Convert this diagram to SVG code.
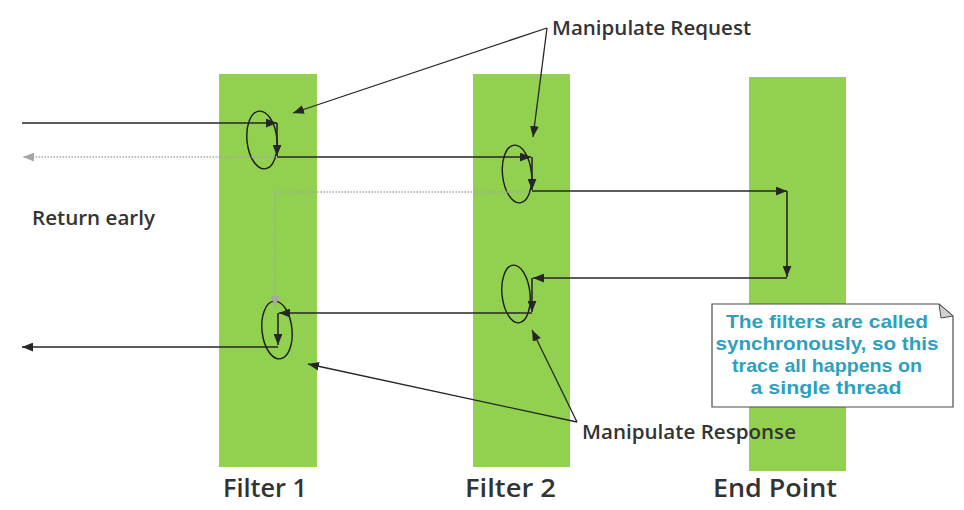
<svg xmlns="http://www.w3.org/2000/svg" width="964" height="510" viewBox="0 0 964 510">
<style>
.bar{fill:#92D050}
.ln{fill:none;stroke:#262626;stroke-width:1.6}
.dot{fill:none;stroke:#a6a6a6;stroke-width:1.3;stroke-dasharray:1.5 1.5}
.ell{fill:none;stroke:#1a1a1a;stroke-width:1.4}
.cl{fill:none;stroke:#262626;stroke-width:1.3}
.lbl{font-family:"Open Sans","Liberation Sans",sans-serif;font-weight:600;fill:#333333}
.note{font-family:"Liberation Sans","Open Sans",sans-serif;font-weight:700;fill:#2E9FBF;font-size:19px;text-anchor:middle}
</style>
<defs>
<marker id="ah" viewBox="0 0 10 8" refX="10" refY="4" markerWidth="11" markerHeight="9" markerUnits="userSpaceOnUse" orient="auto"><path d="M0,0 L10,4 L0,8 Z" fill="#262626"/></marker>
<marker id="ag" viewBox="0 0 10 8" refX="10" refY="4" markerWidth="11" markerHeight="9" markerUnits="userSpaceOnUse" orient="auto"><path d="M0,0 L10,4 L0,8 Z" fill="#a6a6a6"/></marker>
</defs>
<rect width="964" height="510" fill="#ffffff"/>
<g id="filter1">
<rect class="bar" x="219" y="74" width="98" height="393"/>
<text class="lbl" x="223" y="497" font-size="25" textLength="84" lengthAdjust="spacingAndGlyphs">Filter 1</text>
</g>
<g id="filter2">
<rect class="bar" x="473" y="74" width="97" height="393"/>
<text class="lbl" x="465" y="497" font-size="25" textLength="91" lengthAdjust="spacingAndGlyphs">Filter 2</text>
</g>
<g id="endpoint">
<rect class="bar" x="749" y="77" width="97" height="394"/>
<text class="lbl" x="713" y="497" font-size="25" textLength="124" lengthAdjust="spacingAndGlyphs">End Point</text>
</g>
<g id="ellipses">
<ellipse class="ell" cx="262" cy="140" rx="15" ry="29" transform="rotate(-6 262 140)"/>
<ellipse class="ell" cx="517" cy="174" rx="14.5" ry="29" transform="rotate(-6 517 174)"/>
<ellipse class="ell" cx="516" cy="294" rx="14" ry="29" transform="rotate(-6 516 294)"/>
<ellipse class="ell" cx="277" cy="330" rx="15" ry="29" transform="rotate(-6 277 330)"/>
</g>
<g id="connectors">
<path class="dot" d="M277,157 H23" marker-end="url(#ag)"/>
<path class="dot" d="M532,192 H275 V307" marker-end="url(#ag)"/>
<path class="ln" d="M22,123 H277" marker-end="url(#ah)"/>
<path class="ln" d="M277,123 V156" marker-end="url(#ah)"/>
<path class="ln" d="M277,157 H531" marker-end="url(#ah)"/>
<path class="ln" d="M532,157 V190" marker-end="url(#ah)"/>
<path class="ln" d="M532,191 H787" marker-end="url(#ah)"/>
<path class="ln" d="M787,191 V277" marker-end="url(#ah)"/>
<path class="ln" d="M787,278 H533" marker-end="url(#ah)"/>
<path class="ln" d="M532,278 V312" marker-end="url(#ah)"/>
<path class="ln" d="M532,313 H279" marker-end="url(#ah)"/>
<path class="ln" d="M278,313 V345" marker-end="url(#ah)"/>
<path class="ln" d="M278,347 H22" marker-end="url(#ah)"/>
<path class="cl" d="M547,28 L293,113" marker-end="url(#ah)"/>
<path class="cl" d="M547,28 L533,137" marker-end="url(#ah)"/>
<path class="cl" d="M577,422 L532,330" marker-end="url(#ah)"/>
<path class="cl" d="M577,422 L308,364" marker-end="url(#ah)"/>
</g>
<g id="labels">
<text class="lbl" x="552" y="35" font-size="19" textLength="199" lengthAdjust="spacingAndGlyphs">Manipulate Request</text>
<text class="lbl" x="582" y="439" font-size="19" textLength="214" lengthAdjust="spacingAndGlyphs">Manipulate Response</text>
<text class="lbl" x="32" y="225" font-size="19" textLength="123" lengthAdjust="spacingAndGlyphs">Return early</text>
</g>
<g id="note">
<path d="M712,304 H939 L953,316 V407 H712 Z" fill="#ffffff" stroke="#4d4d4d" stroke-width="1.2"/>
<path d="M939,304 L941,318 L953,316 Z" fill="#d0d0d0" stroke="#4d4d4d" stroke-width="1"/>
<text class="note" x="827" y="328" textLength="202" lengthAdjust="spacingAndGlyphs">The filters are called</text>
<text class="note" x="827" y="350" textLength="223" lengthAdjust="spacingAndGlyphs">synchronously, so this</text>
<text class="note" x="827" y="372" textLength="190" lengthAdjust="spacingAndGlyphs">trace all happens on</text>
<text class="note" x="826" y="394" textLength="151" lengthAdjust="spacingAndGlyphs">a single thread</text>
</g>
</svg>
